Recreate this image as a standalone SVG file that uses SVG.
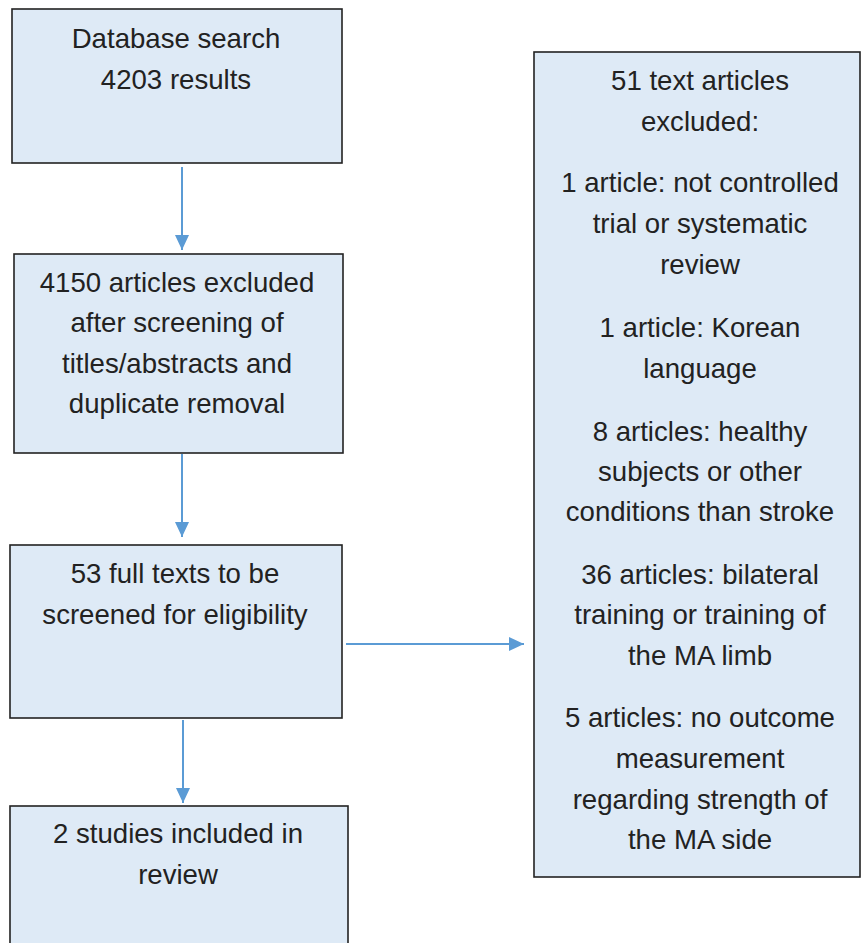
<svg xmlns="http://www.w3.org/2000/svg" width="862" height="943" viewBox="0 0 862 943">
<defs>
<style>
.box{fill:#DEEAF6;stroke:#222;stroke-width:1.6}
.t{font-family:"Liberation Sans",Arial,sans-serif;font-size:27.6px;fill:#222;text-anchor:middle}
.c{stroke:#5B9BD5;stroke-width:2;fill:none}
</style>
<marker id="ah" markerUnits="userSpaceOnUse" markerWidth="15" markerHeight="14" refX="15" refY="7" orient="auto">
<path d="M0,0 L15,7 L0,14 z" fill="#5B9BD5"/>
</marker>
</defs>
<rect width="862" height="943" fill="#fff"/>
<g id="connectors">
<line class="c" x1="182" y1="167" x2="182" y2="250" marker-end="url(#ah)"/>
<line class="c" x1="182" y1="454" x2="182" y2="537" marker-end="url(#ah)"/>
<line class="c" x1="183" y1="720" x2="183" y2="803" marker-end="url(#ah)"/>
<line class="c" x1="346" y1="644" x2="524" y2="644" marker-end="url(#ah)"/>
</g>
<g id="n1">
<rect class="box" x="12" y="9" width="330" height="154"/>
<text class="t" x="176" y="48">Database search</text>
<text class="t" x="176" y="89">4203 results</text>
</g>
<g id="n2">
<rect class="box" x="14" y="254" width="329" height="199"/>
<text class="t" x="177" y="292">4150 articles excluded</text>
<text class="t" x="177" y="332">after screening of</text>
<text class="t" x="177" y="373">titles/abstracts and</text>
<text class="t" x="177" y="413">duplicate removal</text>
</g>
<g id="n3">
<rect class="box" x="10" y="545" width="332" height="173"/>
<text class="t" x="175" y="583">53 full texts to be</text>
<text class="t" x="175" y="624">screened for eligibility</text>
</g>
<g id="n4">
<rect class="box" x="10" y="806" width="338" height="150"/>
<text class="t" x="178" y="843">2 studies included in</text>
<text class="t" x="178" y="884">review</text>
</g>
<g id="n5">
<rect class="box" x="534" y="52" width="326" height="825"/>
<text class="t" x="700" y="90">51 text articles</text>
<text class="t" x="700" y="131">excluded:</text>
<text class="t" x="700" y="192">1 article: not controlled</text>
<text class="t" x="700" y="233">trial or systematic</text>
<text class="t" x="700" y="274">review</text>
<text class="t" x="700" y="337">1 article: Korean</text>
<text class="t" x="700" y="378">language</text>
<text class="t" x="700" y="441">8 articles: healthy</text>
<text class="t" x="700" y="481">subjects or other</text>
<text class="t" x="700" y="521">conditions than stroke</text>
<text class="t" x="700" y="584">36 articles: bilateral</text>
<text class="t" x="700" y="624">training or training of</text>
<text class="t" x="700" y="665">the MA limb</text>
<text class="t" x="700" y="727">5 articles: no outcome</text>
<text class="t" x="700" y="768">measurement</text>
<text class="t" x="700" y="809">regarding strength of</text>
<text class="t" x="700" y="849">the MA side</text>
</g>
</svg>
